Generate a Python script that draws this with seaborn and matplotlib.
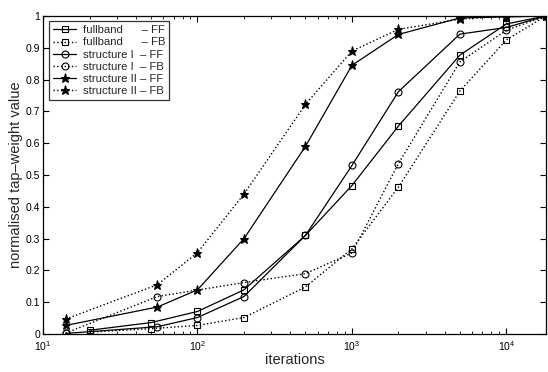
import numpy as np
import pandas as pd
import matplotlib
matplotlib.use("Agg")
import matplotlib.pyplot as plt
import seaborn as sns

# ---- data ----
x_full = [20, 50, 100, 200, 500, 1000, 2000, 5000, 10000, 18000]
y_full_ff = [0.012, 0.036, 0.071, 0.139, 0.31, 0.467, 0.654, 0.877, 0.975, 1.0]
y_full_fb = [0.006, 0.017, 0.027, 0.052, 0.148, 0.268, 0.462, 0.764, 0.925, 1.0]

x_s1_ff = [14, 55, 100, 200, 500, 1000, 2000, 5000, 10000, 18000]
y_s1_ff = [0.002, 0.023, 0.052, 0.118, 0.31, 0.53, 0.762, 0.943, 0.964, 1.0]
x_s1_fb = [14, 55, 200, 500, 1000, 2000, 5000, 10000, 18000]
y_s1_fb = [0.003, 0.118, 0.162, 0.19, 0.255, 0.536, 0.856, 0.955, 1.0]

x_s2 = [14, 55, 100, 200, 500, 1000, 2000, 5000, 10000, 18000]
y_s2_ff = [0.027, 0.085, 0.139, 0.30, 0.59, 0.845, 0.942, 0.994, 0.997, 1.0]
y_s2_fb = [0.047, 0.155, 0.256, 0.44, 0.722, 0.89, 0.958, 0.99, 1.0, 1.0]

labels = ["fullband      \u2013 FF", "fullband      \u2013 FB",
          "structure I  \u2013 FF", "structure I  \u2013 FB",
          "structure II \u2013 FF", "structure II \u2013 FB"]
yticks = [0, 0.1, 0.2, 0.3, 0.4, 0.5, 0.6, 0.7, 0.8, 0.9, 1]
ytick_labels = ["0", "0.1", "0.2", "0.3", "0.4", "0.5", "0.6", "0.7", "0.8", "0.9", "1"]

sns.set_theme(style="ticks")
plt.rcParams['font.family'] = ['Liberation Sans', 'DejaVu Sans']
plt.rcParams['mathtext.fontset'] = 'custom'
plt.rcParams['mathtext.rm'] = 'Liberation Sans'
plt.rcParams['mathtext.it'] = 'Liberation Sans:italic'

fig = plt.figure(figsize=(5.48, 3.72), dpi=100)
ax = fig.add_axes([0.0785, 0.102, 0.9175, 0.855])

series = [
    (x_full, y_full_ff, 's', '-', 'none', labels[0]),
    (x_full, y_full_fb, 's', ':', 'none', labels[1]),
    (x_s1_ff, y_s1_ff, 'o', '-', 'none', labels[2]),
    (x_s1_fb, y_s1_fb, 'o', ':', 'none', labels[3]),
    (x_s2, y_s2_ff, '*', '-', 'black', labels[4]),
    (x_s2, y_s2_fb, '*', ':', 'black', labels[5]),
]
for xs, ys, mk, ls, mfc, lab in series:
    df = pd.DataFrame({"x": xs, "y": ys})
    sns.lineplot(data=df, x="x", y="y", ax=ax, color="black", marker=mk,
                 linestyle=ls, linewidth=0.9 if ls == '-' else 1.0,
                 markersize=5.0 if mk != '*' else 6.5,
                 markerfacecolor=mfc, markeredgecolor="black",
                 markeredgewidth=0.8, label=lab, sort=False)

ax.set_xscale('log')
ax.set_xlim(10, 18000)
ax.set_ylim(0, 1)
ax.set_yticks(yticks)
ax.set_yticklabels(ytick_labels)
ax.tick_params(axis='both', which='both', direction='in', top=True, right=True,
               labelsize=7.5, colors='black', pad=2)
ax.tick_params(axis='x', which='major', pad=4)
ax.tick_params(axis='both', which='major', length=4, width=0.8)
ax.tick_params(axis='x', which='minor', length=2, width=0.6)
for s in ax.spines.values():
    s.set_color('black')
    s.set_linewidth(0.9)

ax.set_xlabel("iterations", fontsize=10.5, labelpad=0)
ax.set_ylabel("normalised tap\u2013weight value", fontsize=10.5, labelpad=2)

leg = ax.legend(loc='upper left', bbox_to_anchor=(0.008, 0.99), fontsize=8.2,
                frameon=True, fancybox=False, edgecolor='black',
                handlelength=2.0, handletextpad=0.6, borderpad=0.35,
                labelspacing=0.18, borderaxespad=0.2)
leg.get_frame().set_linewidth(0.9)

fig.savefig("out.png", dpi=100)
